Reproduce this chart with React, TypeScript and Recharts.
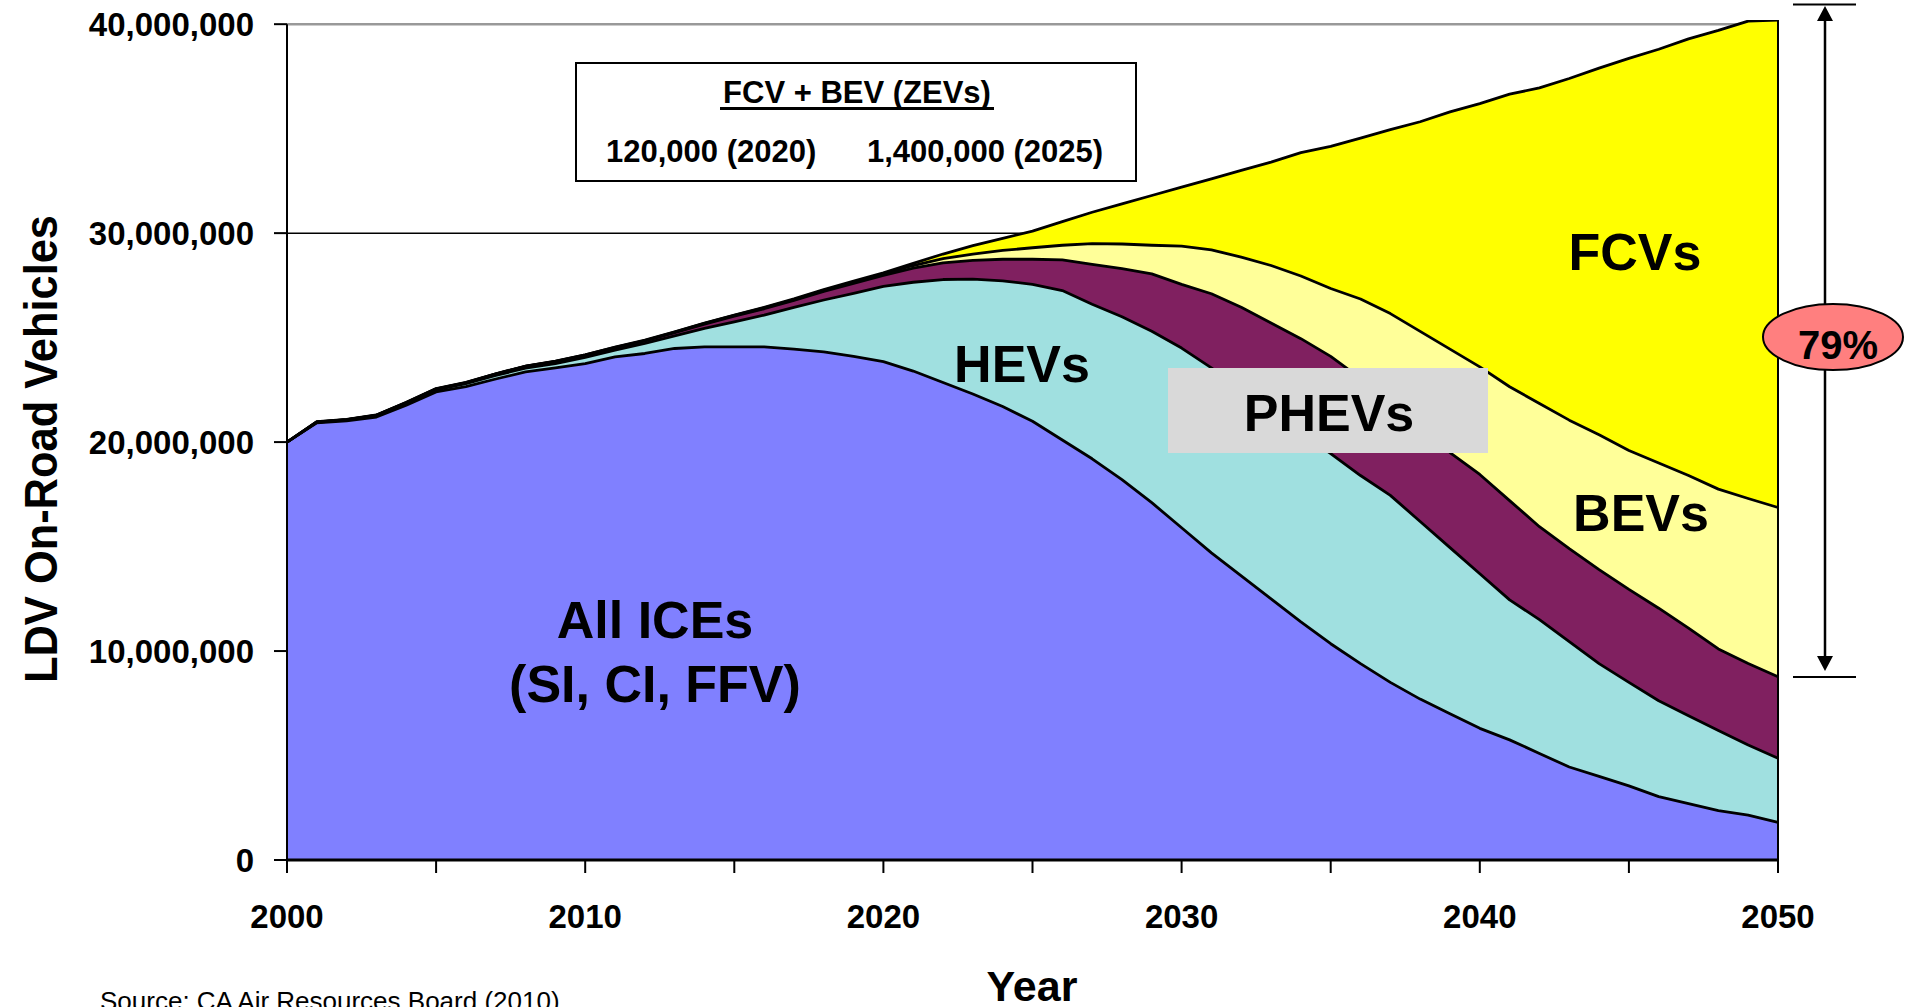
import React from 'react';
import { AreaChart, Area, Line, XAxis, YAxis, CartesianGrid, ReferenceLine } from 'recharts';

// LDV on-road stock, millions of vehicles, one value per year
const years = [
  2000, 2001, 2002, 2003, 2004, 2005, 2006, 2007, 2008, 2009,
  2010, 2011, 2012, 2013, 2014, 2015, 2016, 2017, 2018, 2019,
  2020, 2021, 2022, 2023, 2024, 2025, 2026, 2027, 2028, 2029,
  2030, 2031, 2032, 2033, 2034, 2035, 2036, 2037, 2038, 2039,
  2040, 2041, 2042, 2043, 2044, 2045, 2046, 2047, 2048, 2049, 2050,
];

const iceVehicles = [
  20.0, 20.92, 21.02, 21.2, 21.77, 22.4, 22.65, 23.02, 23.36, 23.55,
  23.76, 24.08, 24.24, 24.48, 24.56, 24.56, 24.56, 24.45, 24.32, 24.1,
  23.85, 23.4, 22.85, 22.3, 21.7, 21.0, 20.1, 19.2, 18.2, 17.1,
  15.9, 14.7, 13.6, 12.5, 11.4, 10.35, 9.4, 8.5, 7.7, 7.0,
  6.3, 5.75, 5.1, 4.45, 4.0, 3.55, 3.03, 2.7, 2.36, 2.15, 1.8,
];

const hevVehicles = [
  0, 0.03, 0.04, 0.06, 0.08, 0.1, 0.15, 0.17, 0.18, 0.21,
  0.29, 0.32, 0.48, 0.6, 0.88, 1.19, 1.52, 2.0, 2.48, 3.02,
  3.6, 4.25, 4.93, 5.5, 6.02, 6.55, 7.15, 7.4, 7.8, 8.2,
  8.6, 8.85, 8.95, 9.0, 9.05, 9.1, 9.0, 8.95, 8.5, 7.95,
  7.4, 6.7, 6.4, 6.0, 5.4, 4.95, 4.59, 4.2, 3.84, 3.35, 3.07,
];

const phevVehicles = [
  0, 0.01, 0.01, 0.02, 0.03, 0.04, 0.04, 0.06, 0.08, 0.09,
  0.1, 0.11, 0.12, 0.16, 0.21, 0.28, 0.3, 0.33, 0.41, 0.48,
  0.53, 0.68, 0.8, 0.9, 1.03, 1.2, 1.47, 1.9, 2.3, 2.75,
  3.05, 3.55, 3.9, 4.2, 4.5, 4.65, 4.65, 4.45, 4.5, 4.55,
  4.75, 4.75, 4.45, 4.45, 4.5, 4.45, 4.43, 4.2, 3.9, 3.9, 3.9,
];

const bevVehicles = [
  0, 0.01, 0.01, 0.01, 0.01, 0.01, 0.01, 0.01, 0.01, 0.01,
  0.02, 0.02, 0.02, 0.02, 0.03, 0.03, 0.04, 0.04, 0.05, 0.06,
  0.07, 0.12, 0.2, 0.3, 0.42, 0.55, 0.7, 1.0, 1.18, 1.37,
  1.83, 2.1, 2.4, 2.75, 3.0, 3.25, 3.8, 4.25, 4.6, 4.95,
  5.15, 5.45, 5.9, 6.15, 6.45, 6.65, 6.95, 7.3, 7.65, 7.9, 8.1,
];

const fcvVehicles = [
  0, 0.01, 0.01, 0.01, 0.01, 0.01, 0.01, 0.01, 0.01, 0.01,
  0.01, 0.01, 0.02, 0.02, 0.02, 0.02, 0.03, 0.03, 0.04, 0.04,
  0.05, 0.1, 0.22, 0.4, 0.58, 0.8, 1.13, 1.5, 1.92, 2.38,
  2.82, 3.4, 4.15, 4.95, 5.9, 6.8, 7.7, 8.8, 10.03, 11.35,
  12.6, 14.0, 15.1, 16.35, 17.55, 18.76, 19.8, 20.9, 21.95, 22.85, 23.33,
];

const yTicks = [0, 10, 20, 30, 40];
const xTicks = [2000, 2005, 2010, 2015, 2020, 2025, 2030, 2035, 2040, 2045, 2050];

const zevTitle = 'FCV + BEV (ZEVs)';
const zev2020 = '120,000 (2020)';
const zev2025 = '1,400,000 (2025)';
const shareLabel = '79%';

const FONT = '"Liberation Sans", Arial, Helvetica, sans-serif';

type Row = { year: number; ice: number; hev: number; phev: number; bev: number; fcv: number };

const rows: Row[] = years.map((year, i) => ({
  year,
  ice: iceVehicles[i],
  hev: hevVehicles[i],
  phev: phevVehicles[i],
  bev: bevVehicles[i],
  fcv: fcvVehicles[i],
}));

// running tops of the stack, used for the black border drawn on each layer
const stackTops: Array<(r: Row) => number> = [
  (r) => r.ice,
  (r) => r.ice + r.hev,
  (r) => r.ice + r.hev + r.phev,
  (r) => r.ice + r.hev + r.phev + r.bev,
  (r) => r.ice + r.hev + r.phev + r.bev + r.fcv,
];

const total2050 = stackTops[4](rows[rows.length - 1]);

const tickFont = { fill: '#000', fontSize: 33, fontWeight: 700, fontFamily: FONT };
const bigLabel = { fontSize: 52, fontWeight: 700 };

export default function App() {
  return (
    <div
      style={{
        position: 'absolute',
        left: 0,
        top: 0,
        width: 1905,
        height: 1007,
        overflow: 'hidden',
        background: '#fff',
      }}
    >
      <div style={{ position: 'absolute', left: 0, top: 0 }}>
        <AreaChart
          width={1905}
          height={1007}
          data={rows}
          margin={{ top: 20, right: 127, bottom: 0, left: 0 }}
        >
          <CartesianGrid vertical={false} horizontalValues={[10, 20, 30]} stroke="#000" strokeWidth={1.5} />
          <CartesianGrid vertical={false} horizontalValues={[40]} stroke="#999" strokeWidth={2.5} />
          <XAxis
            dataKey="year"
            type="number"
            domain={[2000, 2050]}
            ticks={xTicks}
            interval={0}
            tickFormatter={(v) => (v % 10 === 0 ? String(v) : '')}
            height={147}
            tickSize={13}
            tickMargin={32}
            axisLine={{ stroke: '#000', strokeWidth: 3 }}
            tickLine={{ stroke: '#000', strokeWidth: 2 }}
            tick={tickFont}
          />
          <YAxis
            type="number"
            domain={[0, 40.2]}
            allowDataOverflow
            ticks={yTicks}
            interval={0}
            width={287}
            tickFormatter={(v) => (v * 1000000).toLocaleString('en-US')}
            tickSize={13}
            tickMargin={20}
            axisLine={false}
            tickLine={{ stroke: '#000', strokeWidth: 2 }}
            tick={tickFont}
          />
          <Area type="linear" dataKey="ice" stackId="ldv" fill="#8080FF" fillOpacity={1} stroke="none" isAnimationActive={false} />
          <Area type="linear" dataKey="hev" stackId="ldv" fill="#A0E0E0" fillOpacity={1} stroke="none" isAnimationActive={false} />
          <Area type="linear" dataKey="phev" stackId="ldv" fill="#802060" fillOpacity={1} stroke="none" isAnimationActive={false} />
          <Area type="linear" dataKey="bev" stackId="ldv" fill="#FFFF99" fillOpacity={1} stroke="none" isAnimationActive={false} />
          <Area type="linear" dataKey="fcv" stackId="ldv" fill="#FFFF00" fillOpacity={1} stroke="none" isAnimationActive={false} />
          {stackTops.map((top, i) => (
            <Line
              key={i}
              type="linear"
              dataKey={top}
              stroke="#000"
              strokeWidth={2.8}
              strokeLinejoin="round"
              dot={false}
              activeDot={false}
              isAnimationActive={false}
            />
          ))}
          <ReferenceLine segment={[{ x: 2000, y: 0 }, { x: 2000, y: 40 }]} stroke="#000" strokeWidth={2} />
          <ReferenceLine segment={[{ x: 2050, y: 0 }, { x: 2050, y: total2050 }]} stroke="#000" strokeWidth={2} />
        </AreaChart>
      </div>

      <svg
        width={1905}
        height={1007}
        style={{ position: 'absolute', left: 0, top: 0, pointerEvents: 'none' }}
        fontFamily={FONT}
      >
        {/* axis titles and source */}
        <text
          x={57}
          y={449}
          transform="rotate(-90 57 449)"
          textAnchor="middle"
          fontSize={46}
          fontWeight={700}
          textLength={468}
          lengthAdjust="spacingAndGlyphs"
        >
          LDV On-Road Vehicles
        </text>
        <text x={1032} y={1001} textAnchor="middle" fontSize={43} fontWeight={700}>
          Year
        </text>
        <text x={100} y={1010} fontSize={26}>
          Source: CA Air Resources Board (2010)
        </text>

        {/* ZEV callout box */}
        <rect x={576} y={63} width={560} height={118} fill="#fff" stroke="#000" strokeWidth={2} />
        <text x={857} y={103} textAnchor="middle" fontSize={31} fontWeight={700}>
          {zevTitle}
        </text>
        <line x1={720} y1={108.5} x2={994} y2={108.5} stroke="#000" strokeWidth={3} />
        <text x={606} y={162} fontSize={31} fontWeight={700}>
          {zev2020}
        </text>
        <text x={867} y={162} fontSize={31} fontWeight={700}>
          {zev2025}
        </text>

        {/* series labels */}
        <text x={655} y={638} textAnchor="middle" {...bigLabel}>All ICEs</text>
        <text x={655} y={702} textAnchor="middle" {...bigLabel}>(SI, CI, FFV)</text>
        <text x={1022} y={382} textAnchor="middle" {...bigLabel}>HEVs</text>
        <rect x={1168} y={368} width={320} height={85} fill="#D9D9D9" />
        <text x={1329} y={431} textAnchor="middle" {...bigLabel}>PHEVs</text>
        <text x={1635} y={270} textAnchor="middle" {...bigLabel}>FCVs</text>
        <text x={1641} y={531} textAnchor="middle" {...bigLabel}>BEVs</text>

        {/* 79% span arrow */}
        <line x1={1793} y1={4.5} x2={1856} y2={4.5} stroke="#000" strokeWidth={2} />
        <line x1={1793} y1={677} x2={1856} y2={677} stroke="#000" strokeWidth={2} />
        <line x1={1825} y1={14} x2={1825} y2={662} stroke="#000" strokeWidth={2.5} />
        <polygon points="1825,6 1817,21 1833,21" fill="#000" />
        <polygon points="1825,671 1817,656 1833,656" fill="#000" />
        <ellipse cx={1833} cy={337} rx={70} ry={33} fill="#FF7F7F" stroke="#000" strokeWidth={2} />
        <text x={1838} y={359} textAnchor="middle" fontSize={40} fontWeight={700}>
          {shareLabel}
        </text>
      </svg>
    </div>
  );
}
